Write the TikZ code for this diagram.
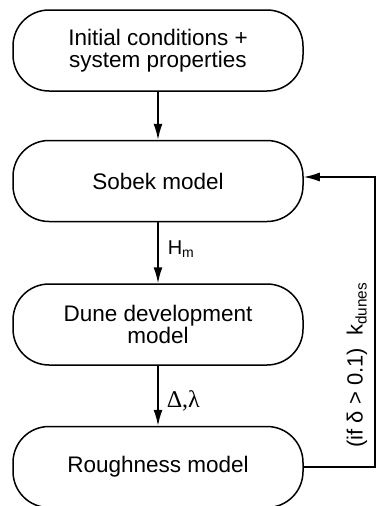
\documentclass[tikz,border=0pt]{standalone}
\usepackage{amsmath,amssymb}
\usepackage{fontspec}
\setmainfont{Liberation Sans}
\newfontfamily\greekserif{Liberation Serif}
\usetikzlibrary{arrows.meta,positioning,calc}

\begin{document}
\begin{tikzpicture}[font=\fontsize{22.5}{21.5}\selectfont, node distance=48pt]
\tikzstyle{box}=[draw, line width=1.5pt, rounded corners=36pt, minimum width=290pt, minimum height=81pt, align=center, inner sep=2pt]
\tikzstyle{flow}=[line width=1.5pt, -{Latex[length=16pt,width=9pt]}]
\tikzstyle{lbl}=[font=\fontsize{20}{20}\selectfont, inner sep=0pt]
\useasboundingbox (0,0) rectangle (376pt,-506pt);
\node[box] (init) at (158pt,-50.5pt) {Initial conditions +\\system properties};
\node[box, below=of init] (sobek) {Sobek model};
\node[box, below=61pt of sobek] (dune) {Dune development\\model};
\node[box, below=60pt of dune] (rough) {Roughness model};
\draw[flow] (init) -- (sobek);
\draw[flow] (sobek) -- node[lbl, right=9pt, yshift=4pt] (hm) {H\textsubscript{m}} (dune);
\draw[flow] (dune) -- node[lbl, right=8pt, yshift=-5pt] (dl) {\greekserif\fontsize{24}{24}\selectfont Δ,λ} (rough);
% feedback loop
\draw[flow] (rough.east) -- ++(71pt,0) coordinate (turn) |- ([yshift=4pt]sobek.east);
\node[rotate=90, font=\fontsize{22}{22}\selectfont] (cond) at (357pt,-365pt) {(if δ > 0.1)\ \ k\textsubscript{dunes}};
\end{tikzpicture}
\end{document}
